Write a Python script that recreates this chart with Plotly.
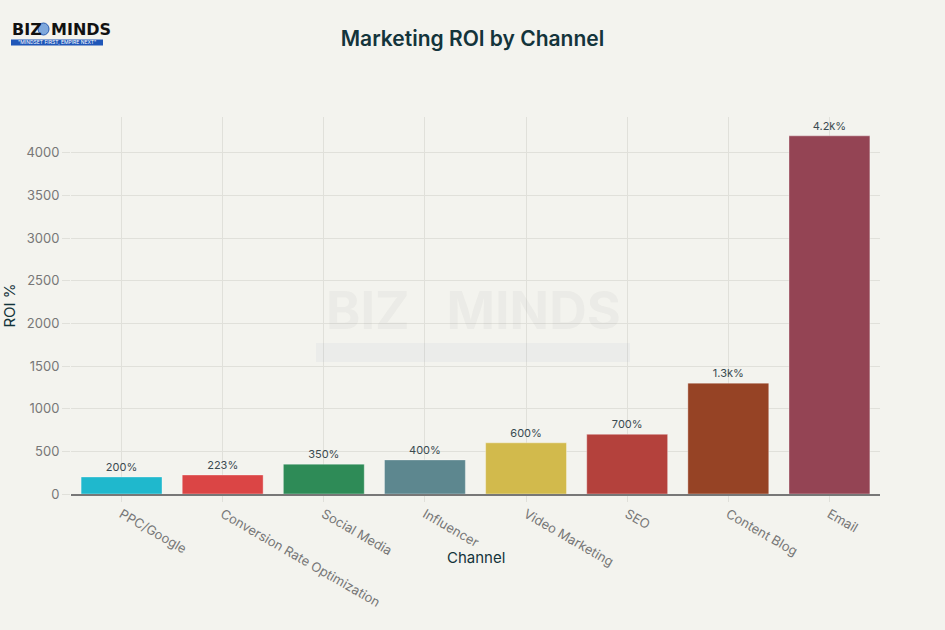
import plotly.graph_objects as go

channels = ["PPC/Google", "Conversion Rate Optimization", "Social Media", "Influencer",
            "Video Marketing", "SEO", "Content Blog", "Email"]
roi = [200, 223, 350, 400, 600, 700, 1300, 4200]
colors = ["#1FB8CD", "#DB4545", "#2E8B57", "#5D878F", "#D2BA4C", "#B4413C", "#964325", "#944454"]

W, H = 945, 630
ML, MR, MT, MB = 71, 65, 117, 136
PW, PH = W - ML - MR, H - MT - MB


def px(x):
    return (x - ML) / PW


def py(y):
    return (H - MB - y) / PH


fig = go.Figure(go.Bar(
    x=channels, y=roi,
    marker=dict(color=colors, line=dict(color="rgba(255,255,255,0.35)", width=1)),
    texttemplate="%{y:~s}%", textposition="outside", cliponaxis=False,
    textfont=dict(size=11, color="#3a4a50"),
))

font_family = "Inter, 'Liberation Sans', Arial, sans-serif"

fig.update_layout(
    width=W, height=H,
    paper_bgcolor="#F3F3EE", plot_bgcolor="#F3F3EE",
    font=dict(family=font_family, color="#13343B"),
    title=dict(text="Marketing ROI by Channel", x=0.5, xanchor="center", y=1 - 39 / H, yanchor="middle",
               font=dict(size=21, color="#13343B", weight=600)),
    margin=dict(l=ML, r=MR, t=MT, b=MB, autoexpand=False),
    bargap=0.2,
    showlegend=False,
    xaxis=dict(tickangle=30, tickfont=dict(size=13, color="#777777"),
               showgrid=True, gridcolor="#E0E0DA", automargin=False,
               showline=True, linecolor="#777777", linewidth=1.5, ticks="outside",
               ticklen=6, tickcolor="#E0E0DA"),
    yaxis=dict(title=dict(text="ROI %", font=dict(size=15, color="#13343B"), standoff=16),
               tickfont=dict(size=13, color="#777777"), dtick=500, automargin=False,
               showgrid=True, gridcolor="#E0E0DA", zeroline=False,
               ticks="outside", ticklen=8, tickcolor="#E0E0DA"),
)

# x-axis title placed as in the reference
fig.add_annotation(text="Channel", xref="paper", yref="paper", x=px(476), y=py(557),
                   xanchor="center", yanchor="middle",
                   showarrow=False, font=dict(size=15, color="#13343B"))

# watermark
fig.add_annotation(text="<b>BIZ   MINDS</b>", xref="paper", yref="paper", x=px(473), y=py(310),
                   xanchor="center", yanchor="middle",
                   showarrow=False, font=dict(size=52, color="rgba(120,120,120,0.06)"))
fig.add_shape(type="rect", xref="paper", yref="paper", x0=px(316), x1=px(630), y0=py(362), y1=py(343),
              line=dict(width=0), fillcolor="rgba(120,140,170,0.06)", layer="above")

# logo
logo_font = dict(size=16, color="#111111", family="'DejaVu Sans', Arial", weight=700)
fig.add_annotation(text="BIZ", xref="paper", yref="paper", x=px(10), y=py(30), xanchor="left",
                   yanchor="middle", showarrow=False, font=logo_font)
fig.add_annotation(text="MINDS", xref="paper", yref="paper", x=px(49), y=py(30), xanchor="left",
                   yanchor="middle", showarrow=False, font=logo_font)
fig.add_shape(type="circle", xref="paper", yref="paper", x0=px(38), x1=px(49), y0=py(35), y1=py(23),
              line=dict(color="#2a5db0", width=1), fillcolor="#7fa8dc")
fig.add_shape(type="rect", xref="paper", yref="paper", x0=px(11), x1=px(103), y0=py(45.5), y1=py(39.5),
              line=dict(width=0), fillcolor="#1f56b8")
fig.add_annotation(text="\"MINDSET FIRST, EMPIRE NEXT\"", xref="paper", yref="paper", x=px(57), y=py(42.5),
                   xanchor="center", yanchor="middle", showarrow=False,
                   font=dict(size=5, color="#ffffff"))

fig.write_html("out.html", config={"displayModeBar": False},
               post_script="document.body.style.margin='0';document.body.style.background='#F3F3EE';")
